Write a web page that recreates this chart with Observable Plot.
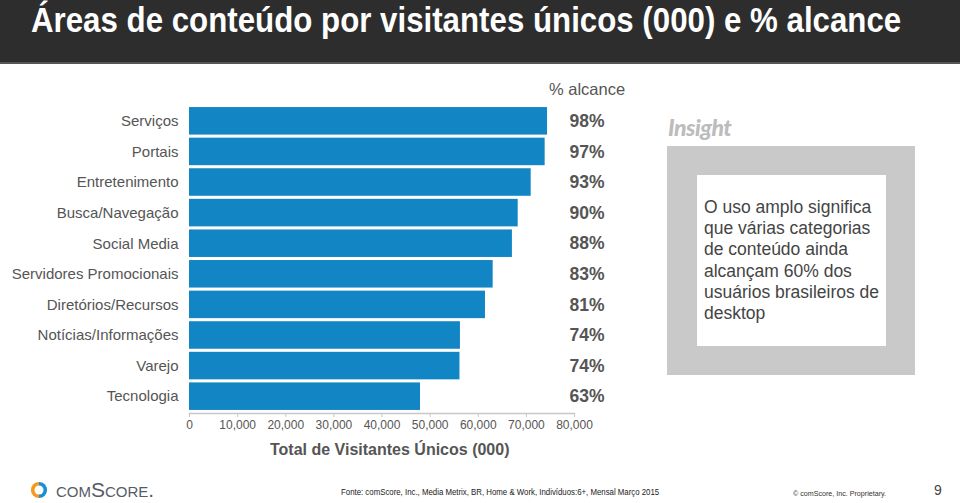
<!DOCTYPE html>
<html>
<head>
<meta charset="utf-8">
<script src="https://cdn.jsdelivr.net/npm/d3@7"></script>
<script src="https://cdn.jsdelivr.net/npm/@observablehq/plot@0.6"></script>
<style>
  html, body { margin: 0; padding: 0; background: #fff; }
  #page { position: relative; width: 960px; height: 503px; overflow: hidden; font-family: "Liberation Sans", Arial, sans-serif; }
  #header { position: absolute; left: 0; top: 0; width: 960px; height: 62px; background: #2d2d2d; border-bottom: 2px solid #555; }
  #title { position: absolute; left: 31px; top: 0px; color: #fff; font-weight: bold; font-size: 35px; white-space: nowrap; transform: scaleX(0.893); transform-origin: 0 0; }
  #chart { position: absolute; left: 0; top: 0; }
  .abs { position: absolute; white-space: nowrap; }
  #reachTitle { left: 549px; top: 80px; font-size: 16.5px; color: #555; }
  #xTitle { left: 270px; top: 441px; font-size: 16px; font-weight: bold; color: #555; }
  #insightLabel { left: 668px; top: 113px; font-family: "Lato", sans-serif; font-style: italic; font-weight: 900; font-size: 23px; color: #bcbcbc; letter-spacing: -0.5px; }
  #outer { position: absolute; left: 667px; top: 146px; width: 248px; height: 229px; background: #c9c9c9; }
  #inner { position: absolute; left: 697px; top: 175px; width: 189px; height: 171px; background: #fff; }
  #insight { position: absolute; left: 704px; top: 197px; width: 182px; font-size: 17.5px; line-height: 21.2px; color: #444; }
  #logoMark { left: 30px; top: 481px; width: 18px; height: 18px; }
  #logoText { left: 56px; top: 478px; font-size: 21px; color: #555c66; font-variant: small-caps; }
  #source { left: 341px; top: 487px; font-size: 9px; color: #222; transform: scaleX(0.87); transform-origin: 0 0; }
  #copy { left: 793px; top: 489px; font-size: 7.5px; color: #333; transform: scaleX(0.95); transform-origin: 0 0; }
  #pageNum { left: 934px; top: 482px; font-size: 14px; color: #444; }
</style>
</head>
<body>
<div id="page">
  <div id="header"><div id="title">Áreas de conteúdo por visitantes únicos (000) e % alcance</div></div>
  <div id="chart"></div>
  <div class="abs" id="reachTitle">% alcance</div>
  <div class="abs" id="xTitle">Total de Visitantes Únicos (000)</div>
  <div class="abs" id="insightLabel">Insight</div>
  <div id="outer"></div>
  <div id="inner"></div>
  <div id="insight">O uso amplo significa que várias categorias de conteúdo ainda alcançam 60% dos usuários brasileiros de desktop</div>
  <svg class="abs" id="logoMark" viewBox="0 0 20 20">
    <path d="M10 1 A9 9 0 0 0 10 19 Z" fill="#f39a1f"/>
    <path d="M10 1 A9 9 0 0 1 10 19 Z" fill="#1c8fd0"/>
    <path d="M10 5 A5 5 0 0 0 10 15 Z" fill="#fff"/>
    <path d="M10 5 A5 5 0 0 1 10 15 Z" fill="#fff"/>
  </svg>
  <div class="abs" id="logoText">comScore.</div>
  <div class="abs" id="source">Fonte: comScore, Inc., Media Metrix, BR, Home &amp; Work, Indivíduos:6+, Mensal Março 2015</div>
  <div class="abs" id="copy">© comScore, Inc. Proprietary.</div>
  <div class="abs" id="pageNum">9</div>
</div>
<script>
const categories = ["Serviços", "Portais", "Entretenimento", "Busca/Navegação", "Social Media", "Servidores Promocionais", "Diretórios/Recursos", "Notícias/Informações", "Varejo", "Tecnologia"];
const visitors = [74400, 73900, 71000, 68300, 67100, 63100, 61500, 56300, 56200, 48000];
const reach = ["98%", "97%", "93%", "90%", "88%", "83%", "81%", "74%", "74%", "63%"];
const xTicks = [0, 10000, 20000, 30000, 40000, 50000, 60000, 70000, 80000];

const data = categories.map((c, i) => ({category: c, value: visitors[i], reach: reach[i]}));

const chart = Plot.plot({
  width: 960,
  height: 503,
  marginLeft: 189,
  marginRight: 386,
  marginTop: 104,
  marginBottom: 90,
  style: {fontFamily: "'Liberation Sans', Arial, sans-serif", background: "transparent"},
  x: {domain: [0, 80000], ticks: xTicks, tickFormat: d3.format(","), label: null},
  y: {domain: categories, padding: 0.1, round: false, label: null},
  marks: [
    Plot.barX(data, {x: "value", y: "category", fill: "#1286c5"}),
    Plot.frame({anchor: "bottom", stroke: "#c8c8c8", strokeWidth: 1.5}),
    Plot.axisX({ticks: xTicks, tickFormat: d3.format(","), tickSize: 4, tickPadding: 3, stroke: "#c8c8c8", fill: "#555", fontSize: 12, label: null}),
    Plot.axisY({tickSize: 0, tickPadding: 11, fill: "#555", fontSize: 15, label: null}),
    Plot.text(data, {y: "category", text: "reach", frameAnchor: "right", textAnchor: "end", dx: 30, fill: "#555", fontSize: 17.5, fontWeight: "bold"})
  ]
});
document.getElementById("chart").appendChild(chart);
</script>
</body>
</html>
